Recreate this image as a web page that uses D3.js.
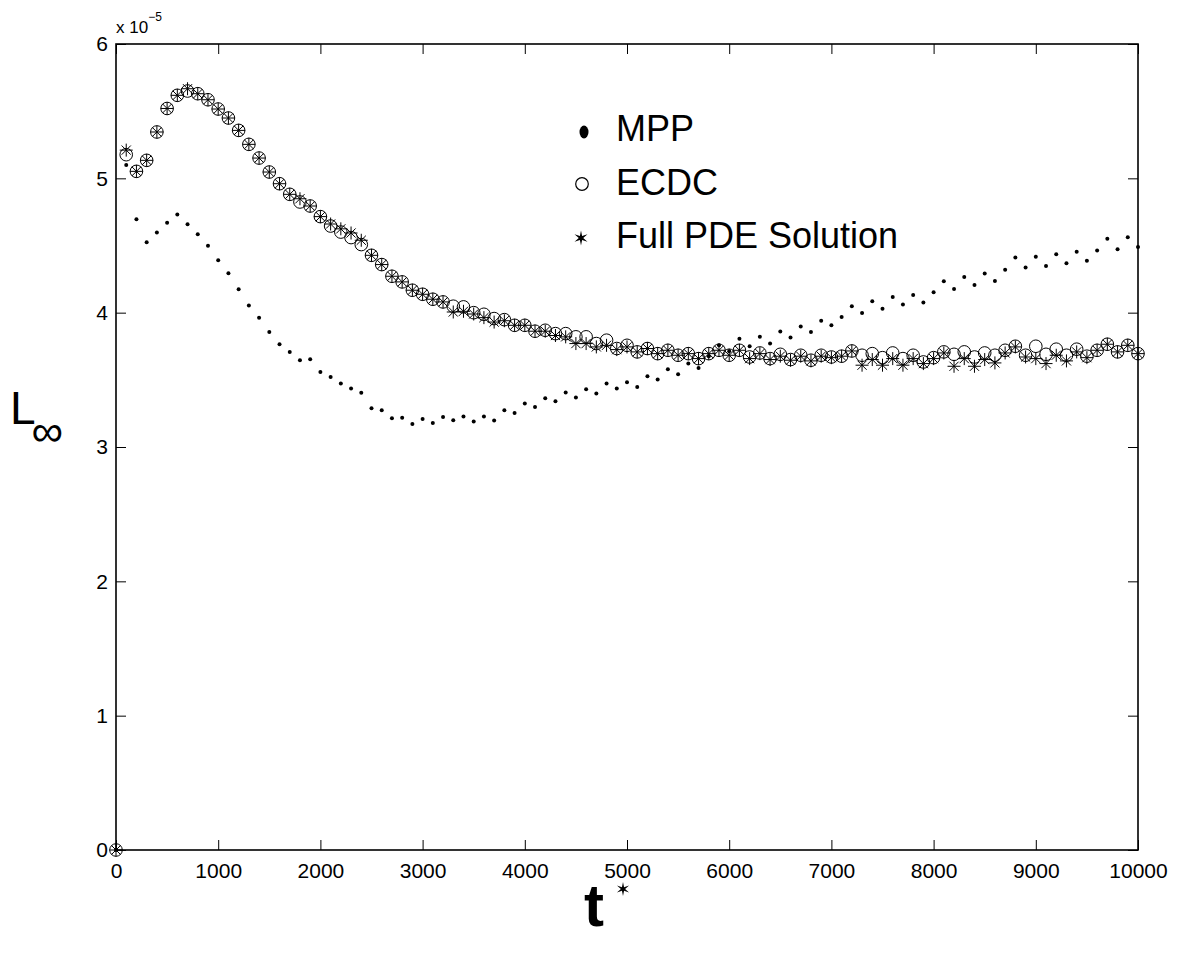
<!DOCTYPE html>
<html lang="en">
<head>
    <meta charset="UTF-8">
    <title>L-infinity error vs t*</title>
    <script src="https://d3js.org/d3.v7.min.js"></script>
    <style>
        body { margin: 0; background: #fff; }
        svg text { font-family: "Liberation Sans", Arial, sans-serif; fill: #000; }
    </style>
</head>
<body>
    <div id="chart"></div>

    <script>
        // time grid (every 100 time units)
        var tValues = d3.range(0, 10001, 100);

        // values in units of 1e-5
        var mpp = [0, 5.10, 4.695, 4.524, 4.596, 4.670, 4.73, 4.658, 4.583, 4.499,
            4.39, 4.293, 4.174, 4.053, 3.963, 3.857, 3.765, 3.708, 3.646, 3.653,
            3.559, 3.522, 3.472, 3.435, 3.403, 3.289, 3.274, 3.214, 3.217, 3.172,
            3.209, 3.179, 3.224, 3.199, 3.227, 3.19, 3.227, 3.197, 3.274, 3.254,
            3.323, 3.298, 3.363, 3.341, 3.405, 3.368, 3.43, 3.398, 3.472, 3.435,
            3.482, 3.447, 3.527, 3.502, 3.579, 3.542, 3.621, 3.589, 3.676, 3.757,
            3.713, 3.805, 3.75, 3.82, 3.77, 3.859, 3.815, 3.897, 3.857, 3.939,
            3.906, 3.968, 4.048, 3.998, 4.085, 4.03, 4.117, 4.06, 4.132, 4.075,
            4.152, 4.234, 4.177, 4.266, 4.206, 4.291, 4.236, 4.32, 4.41, 4.336,
            4.417, 4.348, 4.435, 4.368, 4.454, 4.387, 4.462, 4.551, 4.472, 4.561,
            4.489];

        var ecdc = [0, 5.176, 5.052, 5.134, 5.345, 5.52, 5.618, 5.65, 5.63, 5.585,
            5.516, 5.449, 5.357, 5.253, 5.151, 5.047, 4.96, 4.881, 4.824, 4.794,
            4.715, 4.645, 4.60, 4.559, 4.507, 4.427, 4.358, 4.271, 4.229, 4.167,
            4.137, 4.10, 4.08, 4.048, 4.043, 4.0, 3.988, 3.956, 3.948, 3.906,
            3.906, 3.862, 3.869, 3.844, 3.844, 3.82, 3.82, 3.77, 3.795, 3.733,
            3.757, 3.708, 3.733, 3.695, 3.72, 3.683, 3.695, 3.658, 3.695, 3.72,
            3.683, 3.72, 3.67, 3.70, 3.658, 3.69, 3.651, 3.683, 3.646, 3.683,
            3.670, 3.676, 3.715, 3.683, 3.695, 3.665, 3.70, 3.658, 3.683, 3.633,
            3.665, 3.708, 3.69, 3.708, 3.67, 3.70, 3.683, 3.72, 3.75, 3.683,
            3.75, 3.69, 3.728, 3.683, 3.728, 3.676, 3.72, 3.765, 3.708, 3.757,
            3.695];

        var pde = [0, 5.21, 5.052, 5.134, 5.345, 5.52, 5.618, 5.667, 5.63, 5.585,
            5.516, 5.449, 5.357, 5.253, 5.151, 5.047, 4.96, 4.881, 4.848, 4.794,
            4.715, 4.66, 4.624, 4.593, 4.539, 4.427, 4.358, 4.271, 4.229, 4.167,
            4.137, 4.10, 4.08, 4.005, 4.01, 3.99, 3.963, 3.93, 3.94, 3.906,
            3.906, 3.862, 3.862, 3.83, 3.82, 3.77, 3.77, 3.745, 3.757, 3.725,
            3.745, 3.708, 3.733, 3.695, 3.72, 3.683, 3.695, 3.658, 3.695, 3.72,
            3.683, 3.72, 3.658, 3.695, 3.651, 3.676, 3.646, 3.676, 3.641, 3.676,
            3.665, 3.676, 3.715, 3.609, 3.651, 3.609, 3.658, 3.609, 3.658, 3.621,
            3.658, 3.70, 3.601, 3.658, 3.601, 3.651, 3.626, 3.70, 3.745, 3.67,
            3.658, 3.621, 3.683, 3.641, 3.708, 3.665, 3.72, 3.765, 3.708, 3.757,
            3.695];

        var xTicks = [0, 1000, 2000, 3000, 4000, 5000, 6000, 7000, 8000, 9000, 10000];
        var yTicks = [0, 1, 2, 3, 4, 5, 6];
        var legendLabels = ["MPP", "ECDC", "Full PDE Solution"];

        var svg = d3.select("#chart")
            .append("svg")
            .attr("width", 1179)
            .attr("height", 958);

        var margin = { top: 44, right: 41, bottom: 108, left: 116 };
        var width = 1179 - margin.left - margin.right;
        var height = 958 - margin.top - margin.bottom;

        var x = d3.scaleLinear().domain([0, 10000]).range([0, width]);
        var y = d3.scaleLinear().domain([0, 6]).range([height, 0]);

        var g = svg.append("g")
            .attr("transform", "translate(" + margin.left + "," + margin.top + ")");

        var fmt = d3.format("d");

        // axes with inward ticks on all four sides
        g.append("g")
            .attr("class", "axis")
            .attr("transform", "translate(0," + height + ")")
            .call(d3.axisBottom(x).tickValues(xTicks).tickFormat(fmt).tickSizeInner(-10).tickSizeOuter(0).tickPadding(13));

        g.append("g")
            .attr("class", "axis")
            .call(d3.axisTop(x).tickValues(xTicks).tickSizeInner(-10).tickSizeOuter(0).tickFormat(""));

        g.append("g")
            .attr("class", "axis")
            .call(d3.axisLeft(y).tickValues(yTicks).tickFormat(fmt).tickSizeInner(-10).tickSizeOuter(0).tickPadding(8));

        g.append("g")
            .attr("class", "axis")
            .attr("transform", "translate(" + width + ",0)")
            .call(d3.axisRight(y).tickValues(yTicks).tickSizeInner(-10).tickSizeOuter(0).tickFormat(""));

        g.selectAll(".axis").attr("font-family", null).attr("font-size", null);
        g.selectAll(".axis text").style("font-size", "21px");
        g.selectAll(".axis .domain").remove();
        g.selectAll(".axis line").attr("stroke", "#000").attr("stroke-width", 1);

        g.append("rect")
            .attr("width", width)
            .attr("height", height)
            .attr("fill", "none")
            .attr("stroke", "#000")
            .attr("stroke-width", 1.6);

        // exponent label
        var expo = svg.append("text")
            .attr("x", 116)
            .attr("y", 33)
            .style("font-size", "17px")
            .text("x 10");
        expo.append("tspan")
            .attr("dy", -12)
            .style("font-size", "12px")
            .text("\u22125");

        // asterisk path (8 rays) for the PDE markers
        function asterisk(r) {
            var d = "";
            for (var i = 0; i < 4; i++) {
                var a = i * Math.PI / 4;
                var dx = r * Math.cos(a), dy = r * Math.sin(a);
                d += "M" + (-dx) + "," + (-dy) + "L" + dx + "," + dy;
            }
            return d;
        }

        // six pointed star (filled) for legend / label
        function star6(ro, ri) {
            var pts = [];
            for (var i = 0; i < 12; i++) {
                var a = -Math.PI / 2 + i * Math.PI / 6;
                var r = i % 2 === 0 ? ro : ri;
                pts.push([r * Math.cos(a), r * Math.sin(a)]);
            }
            return "M" + pts.map(function(p) { return p[0].toFixed(2) + "," + p[1].toFixed(2); }).join("L") + "Z";
        }

        var data = tValues.map(function(t, i) {
            return { t: t, mpp: mpp[i], ecdc: ecdc[i], pde: pde[i] };
        });

        // ECDC circles
        g.selectAll(".ecdc")
            .data(data)
            .enter().append("circle")
            .attr("class", "ecdc")
            .attr("cx", function(d) { return x(d.t); })
            .attr("cy", function(d) { return y(d.ecdc); })
            .attr("r", 6.3)
            .attr("fill", "none")
            .attr("stroke", "#000")
            .attr("stroke-width", 1);

        // Full PDE asterisks
        g.selectAll(".pde")
            .data(data)
            .enter().append("path")
            .attr("class", "pde")
            .attr("transform", function(d) { return "translate(" + x(d.t) + "," + y(d.pde) + ")"; })
            .attr("d", asterisk(6.5))
            .attr("fill", "none")
            .attr("stroke", "#000")
            .attr("stroke-width", 1);

        // MPP dots
        g.selectAll(".mpp")
            .data(data)
            .enter().append("circle")
            .attr("class", "mpp")
            .attr("cx", function(d) { return x(d.t); })
            .attr("cy", function(d) { return y(d.mpp); })
            .attr("r", 2)
            .attr("fill", "#000");

        // Legend
        var legend = svg.append("g").attr("class", "legend");
        var legY = [141, 195, 248];

        legend.append("ellipse")
            .attr("cx", 584).attr("cy", legY[0] - 9)
            .attr("rx", 4.5).attr("ry", 6.5)
            .attr("fill", "#000");
        legend.append("circle")
            .attr("cx", 582).attr("cy", legY[1] - 11)
            .attr("r", 6.3)
            .attr("fill", "none").attr("stroke", "#000").attr("stroke-width", 1.2);
        legend.append("path")
            .attr("transform", "translate(581," + (legY[2] - 10) + ")")
            .attr("d", star6(7.5, 2.2))
            .attr("fill", "#000");

        legend.selectAll(".leg-text")
            .data(legendLabels)
            .enter().append("text")
            .attr("class", "leg-text")
            .attr("x", 616)
            .attr("y", function(d, i) { return legY[i]; })
            .style("font-size", "36px")
            .text(function(d) { return d; });

        // y label: L with infinity subscript
        var ylab = svg.append("text")
            .attr("x", 10)
            .attr("y", 424)
            .style("font-size", "46px")
            .text("L");
        ylab.append("tspan")
            .attr("dx", -4)
            .attr("dy", 22)
            .style("font-size", "44px")
            .text("\u221E");

        // x label: t with star superscript
        svg.append("text")
            .attr("x", 584)
            .attr("y", 926)
            .style("font-size", "60px")
            .style("font-weight", "bold")
            .text("t");
        svg.append("path")
            .attr("transform", "translate(623,889)")
            .attr("d", star6(7, 2.1))
            .attr("fill", "#000");
    </script>
</body>
</html>
